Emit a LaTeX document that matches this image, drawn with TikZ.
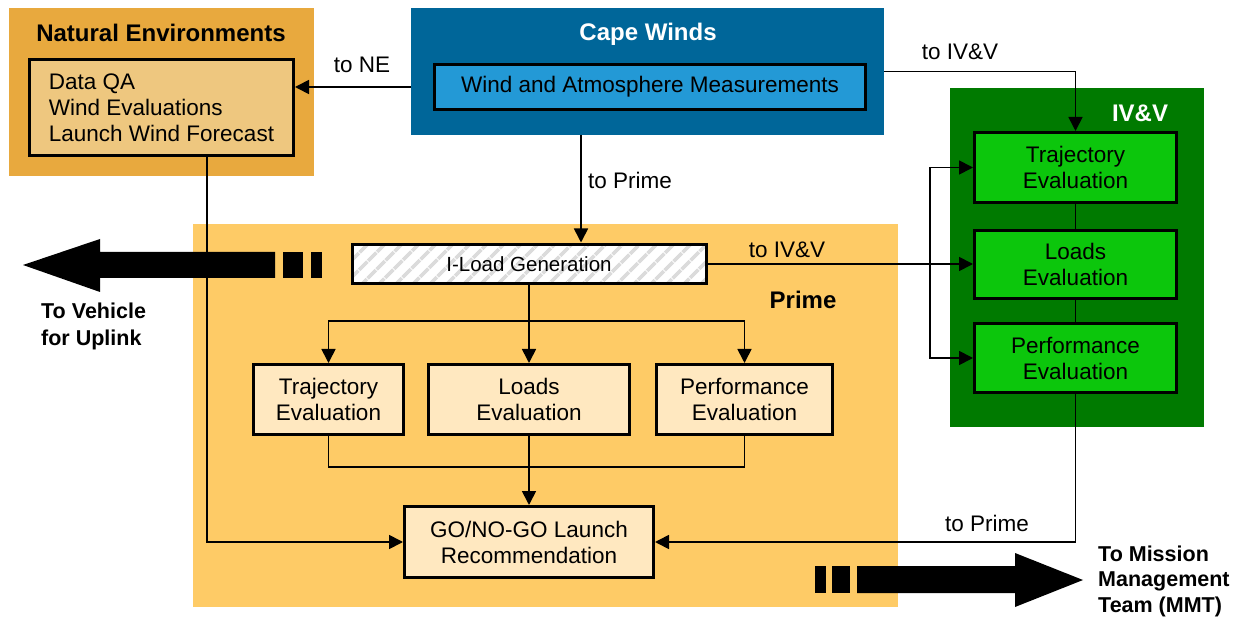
\documentclass[tikz,border=0pt]{standalone}
\usepackage{fontspec}
\setmainfont{Liberation Sans}
\usetikzlibrary{arrows.meta,patterns.meta}
\definecolor{neout}{HTML}{E8A93E}
\definecolor{nein}{HTML}{EEC77F}
\definecolor{cape}{HTML}{006699}
\definecolor{capein}{HTML}{2399D6}
\definecolor{prime}{HTML}{FECB66}
\definecolor{psub}{HTML}{FFE8C0}
\definecolor{ivout}{HTML}{007A00}
\definecolor{ivin}{HTML}{0CC60C}
\begin{document}
\begin{tikzpicture}[x=1pt,y=-1pt,
  conn/.style={line width=1.7pt},
  arr/.style={conn,-{Triangle[length=14pt,width=14pt]}},
  panel/.style={draw=none,inner sep=0pt,outer sep=0pt},
  box/.style={draw=black,line width=3pt,inner sep=0pt,align=center,font=\fontsize{22.5}{26}\selectfont},
  ttl/.style={font=\bfseries\fontsize{24}{28}\selectfont,inner sep=0pt},
  lbl/.style={font=\fontsize{22.5}{26}\selectfont,inner sep=0pt},
  side/.style={font=\bfseries\fontsize{21.5}{25.5}\selectfont,inner sep=0pt,align=left,anchor=west},
  bigarr/.style={fill=black,draw=none}
]
\useasboundingbox (0,0) rectangle (1247,617);
% ---------- panels ----------
\node[panel,fill=neout,minimum width=305pt,minimum height=168pt] (neout) at (161.5,92) {};
\node[panel,fill=cape,minimum width=473pt,minimum height=127pt] (capeout) at (647.5,71.5) {};
\node[panel,fill=prime,minimum width=705pt,minimum height=383pt] (prime) at (545.5,415.5) {};
\node[panel,fill=ivout,minimum width=254pt,minimum height=339pt] (ivout) at (1077,257.5) {};
% ---------- titles ----------
\node[ttl] (netitle) at (161,33) {Natural Environments};
\node[ttl,text=white] (capetitle) at (648,34) {Cape Winds};
\node[ttl] (primetitle) at (803,300) {Prime};
\node[ttl,text=white] (ivtitle) at (1140,113) {IV\&V};
% ---------- boxes ----------
\node[box,fill=nein,minimum width=264pt,minimum height=96pt,align=left] (nein) at (161.5,107.5) {Data QA\\Wind Evaluations\\Launch Wind Forecast};
\node[box,fill=capein,minimum width=431pt,minimum height=45pt] (capein) at (650,87) {Wind and Atmosphere Measurements};
\node[box,preaction={fill=white},pattern={Lines[angle=45,distance=13pt,line width=4pt]},pattern color=black!14,minimum width=354pt,minimum height=39pt,font=\fontsize{20.5}{24}\selectfont] (iload) at (529,264) {I-Load Generation};
\node[box,fill=psub,minimum width=150pt,minimum height=70pt] (ptraj) at (328.5,399.5) {Trajectory\\Evaluation};
\node[box,fill=psub,minimum width=201pt,minimum height=70pt] (ploads) at (529,399.5) {Loads\\Evaluation};
\node[box,fill=psub,minimum width=176pt,minimum height=70pt] (pperf) at (744.5,399.5) {Performance\\Evaluation};
\node[box,fill=psub,minimum width=249pt,minimum height=71pt] (go) at (529,542) {GO/NO-GO Launch\\Recommendation};
\node[box,fill=ivin,minimum width=202pt,minimum height=70pt] (ivtraj) at (1075.5,167.5) {Trajectory\\Evaluation};
\node[box,fill=ivin,minimum width=202pt,minimum height=68pt] (ivloads) at (1075.5,264.5) {Loads\\Evaluation};
\node[box,fill=ivin,minimum width=202pt,minimum height=69pt] (ivperf) at (1075.5,358) {Performance\\Evaluation};
% ---------- helper coordinates ----------
\coordinate (cp) at (581,0);
\coordinate (ne) at (207,0);
\coordinate (br) at (0,321);
\coordinate (mg) at (0,467);
\coordinate (bx) at (930,0);
% ---------- connectors ----------
\draw[arr] (capeout.west |- capein.center) -- (nein.east |- capein.center);
\node[lbl] (tone) at (362,65) {to NE};
\draw[arr] (capeout.east) -| (ivtraj.north);
\node[lbl] (toiv1) at (960,52) {to IV\&V};
\draw[arr] (capeout.south -| cp) -- (iload.north -| cp);
\node[lbl] (toprime1) at (630,180) {to Prime};
\draw[arr] (iload.east) -- (ivloads.west |- iload.east);
\node[lbl] (toiv2) at (787,250) {to IV\&V};
\draw[arr] (iload.south) -- (ploads.north);
\draw[arr] (iload.south |- br) -| (ptraj.north);
\draw[arr] (iload.south |- br) -| (pperf.north);
\draw[conn] (ptraj.south) |- (pperf.south |- mg) -- (pperf.south);
\draw[arr] (ploads.south) -- (go.north);
\draw[arr] (nein.south -| ne) |- (go.west);
\draw[conn] (ivtraj.south) -- (ivloads.north);
\draw[conn] (ivloads.south) -- (ivperf.north);
\draw[arr] (bx |- iload.east) |- (ivtraj.west);
\draw[arr] (bx |- iload.east) |- (ivperf.west);
\draw[arr] (ivperf.south) |- (go.east);
\node[lbl] (toprime2) at (987,523) {to Prime};
% ---------- big arrows ----------
\fill[bigarr] (23,265) -- (100,239) -- (100,252) -- (275,252) -- (275,278) -- (100,278) -- (100,292) -- cycle;
\fill[bigarr] (283,252) rectangle (303,278);
\fill[bigarr] (311,252) rectangle (322,278);
\node[side,font=\bfseries\fontsize{21.5}{27}\selectfont] (vehicle) at (41,326) {To Vehicle\\for Uplink};
\fill[bigarr] (815,566) rectangle (826,593);
\fill[bigarr] (832,566) rectangle (850,593);
\fill[bigarr] (857,566) -- (1015,566) -- (1015,553) -- (1083,580) -- (1015,607) -- (1015,593) -- (857,593) -- cycle;
\node[side] (mmt) at (1098,581) {To Mission\\Management\\Team (MMT)};
\end{tikzpicture}
\end{document}
